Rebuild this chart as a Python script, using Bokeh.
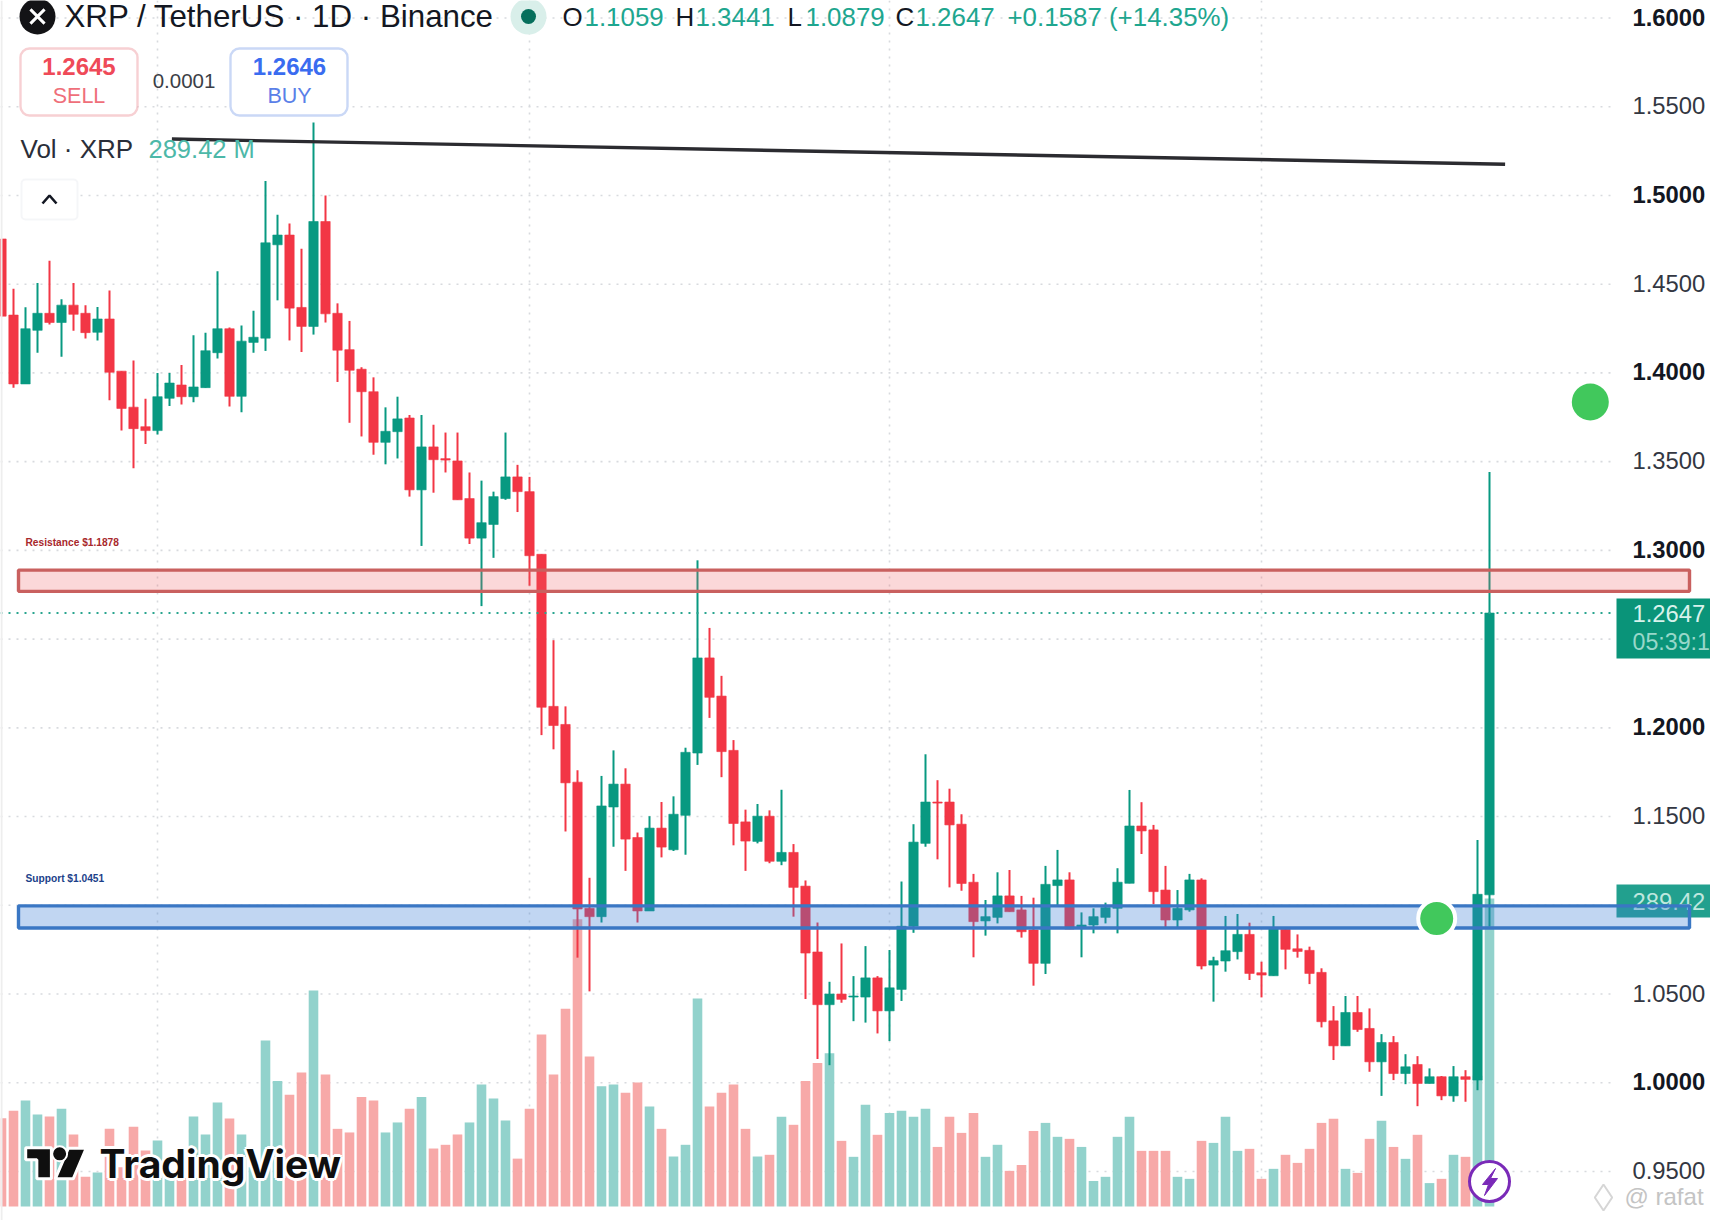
from bokeh.plotting import figure
from bokeh.models import Range1d, BoxAnnotation
from bokeh.core.properties import value
from bokeh.embed import file_html
from bokeh.resources import INLINE

# ---- data -------------------------------------------------------------
opens = [1.4755,1.4326,1.3938,1.4240,1.4336,1.4284,1.4382,1.4336,1.4229,1.4304,1.401,1.3807,1.3697,1.3675,1.3857,1.3932,1.3866,1.3917,1.4114,1.4249,1.3868,1.4172,1.4196,1.4722,1.4777,1.4369,1.4262,1.4853,1.4336,1.4131,1.4021,1.3894,1.3609,1.3669,1.3746,1.3341,1.3583,1.3517,1.3504,1.3292,1.3069,1.3146,1.3292,1.3414,1.3331,
 1.2978,1.2121,1.2019,1.1694,1.0983,1.0936,1.1554,1.1683,1.1382,1.0968,1.1435,1.1313,1.1507,1.1858,1.2394,1.2179,1.1873,1.147,1.136,1.1502,1.1248,1.1298,1.1108,1.0737,1.044,1.05,1.0483,1.0483,1.0591,1.0405,1.0526,1.0882,1.1349,1.1582,1.1582,1.1457,
 1.113,1.0912,1.0932,1.1053,1.0974,1.0861,1.0673,1.1111,1.1143,1.087,1.0889,1.0932,1.0983,1.1124,1.1447,1.1425,1.1086,1.0917,1.0974,1.1143,1.0663,1.0686,1.0739,1.0836,1.062,1.0603,1.0865,1.0755,1.0746,1.0622,1.0349,1.0208,1.0396,1.0306,1.0118,1.0227,1.0052,1.0103,0.9996,1.0034,0.9926,1.0034,1.0015,1.1059]
highs = [1.4755,1.4475,1.437,1.4507,1.4632,1.4415,1.4507,1.4382,1.4371,1.4464,1.401,1.407,1.3855,1.4,1.4,1.4044,1.4212,1.4227,1.4573,1.4256,1.4267,1.435,1.5081,1.4891,1.4842,1.47,1.5411,1.5,1.4392,1.4293,1.4032,1.3975,1.3806,1.3866,1.3763,1.3763,1.3708,1.3664,1.3664,1.3439,1.3393,1.3331,1.3664,1.3482,1.3414,
 1.2978,1.2494,1.2121,1.1761,1.1155,1.1729,1.1873,1.1772,1.141,1.1502,1.1582,1.1614,1.1888,1.2944,1.2563,1.2293,1.1931,1.1539,1.1571,1.1535,1.1651,1.1345,1.114,1.0903,1.0569,1.0785,1.0601,1.077,1.0601,1.0748,1.1134,1.1457,1.1851,1.1705,1.1657,1.1513,
 1.1177,1.103,1.1186,1.1199,1.1053,1.1043,1.1222,1.1312,1.1186,1.096,1.0983,1.1015,1.1209,1.165,1.1581,1.1453,1.1222,1.1086,1.1177,1.1152,1.071,1.094,1.0951,1.0902,1.0682,1.094,1.087,1.0836,1.0767,1.0645,1.0432,1.0489,1.0489,1.0419,1.0274,1.0263,1.0161,1.015,1.0081,1.0038,1.0094,1.0071,1.1368,1.3441]
lows = [1.432,1.3916,1.3938,1.4113,1.4273,1.4091,1.4238,1.4194,1.4183,1.3846,1.3675,1.3463,1.36,1.3653,1.3813,1.3822,1.3835,1.3917,1.4081,1.3811,1.3778,1.4113,1.4124,1.4409,1.4183,1.4118,1.4216,1.4284,1.3949,1.3719,1.3642,1.3539,1.3485,1.3518,1.3303,1.3025,1.3325,1.3439,1.3285,1.3036,1.2686,1.2958,1.3285,1.3216,1.2801,
 1.1959,1.1879,1.1416,1.0705,1.0515,1.0903,1.133,1.1194,1.0903,1.0968,1.127,1.1306,1.1285,1.1791,1.2056,1.1722,1.1338,1.1194,1.1349,1.1237,1.1226,1.0936,1.0472,1.0134,1.0099,1.0451,1.0347,1.0339,1.0278,1.0235,1.0461,1.0845,1.133,1.1259,1.1101,1.1082,
 1.0707,1.0829,1.0898,1.0964,1.0818,1.0547,1.0613,1.1002,1.0866,1.0707,1.0842,1.0898,1.0842,1.1124,1.1289,1.1007,1.0876,1.087,1.0964,1.0639,1.0457,1.0626,1.0695,1.0579,1.0481,1.0603,1.0639,1.0705,1.0556,1.0312,1.0128,1.0208,1.0287,1.0062,0.9926,1.0015,0.9992,0.9868,0.9996,0.9902,0.9893,0.9893,0.9958,1.0879]
closes = [1.432,1.3938,1.4249,1.4336,1.4284,1.4382,1.4330,1.4227,1.4304,1.4004,1.38,1.3686,1.3675,1.3866,1.3943,1.3866,1.3921,1.4125,1.4249,1.3868,1.4179,1.4201,1.4733,1.4777,1.4365,1.4262,1.4853,1.4333,1.4128,1.4015,1.3894,1.3609,1.3671,1.3741,1.3341,1.3583,1.3511,1.3509,1.3285,1.3069,1.3156,1.3303,1.3414,1.3331,1.297,
 1.2116,1.2013,1.169,1.0979,1.0936,1.156,1.1683,1.1373,1.0968,1.1435,1.1328,1.1513,1.1862,1.2394,1.2172,1.1866,1.1461,1.1362,1.1502,1.1248,1.1298,1.1101,1.0731,1.044,1.05,1.047,1.0489,1.0591,1.0405,1.0535,1.0882,1.1356,1.1582,1.1576,1.1453,1.1123,
 1.0908,1.0936,1.1053,1.0964,1.0851,1.0673,1.1118,1.1143,1.0866,1.0889,1.0936,1.0987,1.113,1.1447,1.1419,1.1077,1.0917,1.0983,1.1143,1.0658,1.0688,1.0744,1.0836,1.0616,1.0607,1.087,1.0752,1.074,1.0616,1.0344,1.0208,1.0396,1.03,1.0118,1.0227,1.0052,1.009,0.9996,1.0034,0.9926,1.0034,1.0019,1.1062,1.2647]
volumes = [83,90,99.6,86.5,84.6,92,67.7,28,32,73,37,75,52.6,62,34,28,84.6,67.7,97.7,82.7,67.7,37,156,118,105,126,203,124,73,69.6,103,99.6,69.6,79,92,103,54.5,58,67.7,79,114.7,101.5,80.8,45,92,161.7,124,186,270,141,113,114.7,107,116.5,94,73,47,58,195.5,94,107,114.7,73,47,
 48.6,84.3,76.8,118,135,144,61.7,46.7,95.6,67.4,88,90,84.3,91.8,56,84.3,69.2,88,46.7,58,33.5,39,71,78.6,65.5,63.6,56,24,27.9,65.5,84.3,52.3,52.3,52.3,27.9,26,61.7,59.8,84.3,52.3,54.2,26,35.4,48.6,41,54.2,78.6,82.4,35.4,31.6,63.6,80.5,56,44.8,67.4,22,26,48.6,46.7,123,289.42]
vol_up = [0,0,1,1,0,1,0,0,1,0,0,0,0,1,1,0,1,1,1,0,1,1,1,1,0,0,1,0,0,0,0,0,1,1,0,1,0,0,0,1,1,1,1,0,0,0,0,0,0,0,1,1,0,0,1,0,1,1,1,0,0,0,0,1,
 0,1,0,0,0,1,0,1,1,0,1,1,1,1,0,0,0,0,1,1,0,0,0,1,1,0,1,1,1,1,1,0,0,0,1,1,0,1,1,1,0,0,1,0,0,0,0,0,1,0,0,1,0,1,0,1,0,1,0,1,1]

price_ticks = [1.60,1.55,1.50,1.45,1.40,1.35,1.30,1.20,1.15,1.05,1.00,0.95]
price_labels = ["1.6000","1.5500","1.5000","1.4500","1.4000","1.3500","1.3000","1.2000","1.1500","1.0500","1.0000","0.9500"]
major_labels = ["1.6000","1.5000","1.4000","1.3000","1.2000","1.0000"]
all_grid_prices = [1.60,1.55,1.50,1.45,1.40,1.35,1.30,1.25,1.20,1.15,1.10,1.05,1.00,0.95]
vgrid_bars = [13,44,74,105]
resistance = (1.2769,1.2889)
support = (1.0872,1.0997)
last_price = 1.2647
trend_bars = [14.2,125.3]
trend_prices = [1.5318,1.5176]
dot_bars = [132.4,119.6]
dot_prices = [1.3836,1.0925]

# ---- pixel helpers (reference px -> chart coordinates) -----------------
W, H = 1710, 1220
PX_PER_UNIT = 1774.6
def X(px): return (px-1)/12
def Y(py): return 1.6-(py-17.5)/PX_PER_UNIT

RED, GREEN = "#f23645", "#089981"
n = list(range(len(opens)))

p = figure(width=W, height=H, output_backend="svg", toolbar_location=None,
           x_range=Range1d(X(0),X(W)), y_range=Range1d(Y(H),Y(0)),
           min_border=0, min_border_left=0, min_border_right=0, min_border_top=0, min_border_bottom=0,
           background_fill_color="white", outline_line_color=None)
p.xaxis.visible = False
p.yaxis.visible = False
p.grid.visible = False
p.extra_y_ranges = {"vol": Range1d(-(H-1206)*0.94, 1206*0.94)}

# grid
p.segment(x0=[X(0)]*len(all_grid_prices), x1=[X(1613)]*len(all_grid_prices), y0=all_grid_prices, y1=all_grid_prices,
          line_color="#d8dade", line_width=1.6, line_dash="2 6")
p.segment(x0=vgrid_bars, x1=vgrid_bars, y0=[Y(0)]*4, y1=[Y(1206)]*4,
          line_color="#d8dade", line_width=1.6, line_dash="2 6")

# volume
vol_col = ["#92d2cc" if u else "#f7a9a8" for u in vol_up]
p.vbar(x=n, top=volumes, bottom=0, width=0.8, fill_color=vol_col, line_color=None, y_range_name="vol")

# watermark logo
halo = [(-2,-2),(2,-2),(-2,2),(2,2),(0,-3),(0,3),(-3,0),(3,0)]
for dx,dy in halo:
    p.text(x=[X(99)], y=[Y(1163)], text=["TradingView"], text_font=value("Inter"), text_font_style="bold",
           text_font_size="39px", text_color="white", text_baseline="middle", x_offset=dx, y_offset=dy)
p.text(x=[X(99)], y=[Y(1163)], text=["TradingView"], text_font=value("Inter"), text_font_style="bold",
       text_font_size="39px", text_color="#0f0f0f", text_baseline="middle")
zx = lambda v: X(v/2.063)
zy = lambda v: Y(950+v/3)
p.patches(xs=[[zx(52),zx(105),zx(105),zx(75),zx(75),zx(52)], [zx(140),zx(177),zx(150),zx(113)]],
          ys=[[zy(592),zy(592),zy(685),zy(685),zy(628),zy(628)], [zy(593),zy(593),zy(685),zy(685)]],
          fill_color="#0f0f0f", line_color="white", line_width=3)
p.scatter(x=[zx(122)], y=[zy(610)], size=15, fill_color="#0f0f0f", line_color="white", line_width=2)

# candles
col = [GREEN if c>=o else RED for o,c in zip(opens,closes)]
p.segment(x0=n, x1=n, y0=lows, y1=highs, line_color=col, line_width=2)
p.vbar(x=n, top=[max(a,b) for a,b in zip(opens,closes)], bottom=[min(a,b) for a,b in zip(opens,closes)],
       width=0.78, fill_color=col, line_color=col, line_width=0.6)

# last price line
p.segment(x0=[X(0)], x1=[X(1613)], y0=[last_price], y1=[last_price], line_color="#2aa58f", line_width=2, line_dash="2 6")

# trend line
p.line(x=trend_bars, y=trend_prices, line_color="#2b2b30", line_width=3.4)

# price labels
for lab,t in zip(price_labels,price_ticks):
    p.text(x=[X(1632)], y=[t], text=[lab], text_font=value("Liberation Sans"),
           text_font_style="bold" if lab in major_labels else "normal",
           text_font_size="23.8px", text_color="#131722" if lab in major_labels else "#333742", text_baseline="middle",
           y_offset=-1)

# axis labels boxes
p.quad(left=[X(1616)], right=[X(W)], top=[Y(598)], bottom=[Y(658)], fill_color="#0a9479", line_color=None)
p.text(x=[X(1632)], y=[last_price], text=["1.2647"], text_font=value("Liberation Sans"), text_font_size="23.8px",
       text_color="#d8f2ec", text_baseline="middle")
p.text(x=[X(1632)], y=[Y(641)], text=["05:39:1"], text_font=value("Liberation Sans"), text_font_size="23.2px",
       text_color="#98d8ca", text_baseline="middle")
p.quad(left=[X(1616)], right=[X(W)], top=[Y(884)], bottom=[Y(917)], fill_color="#22a08e", line_color=None)
p.text(x=[X(1632)], y=[Y(901)], text=["289.42"], text_font=value("Liberation Sans"), text_font_size="23.8px",
       text_color="#bfe7df", text_baseline="middle")

# zones
p.quad(left=[X(18)], right=[X(1689)], bottom=[resistance[0]], top=[resistance[1]],
       fill_color="#f05a5f", fill_alpha=0.24, line_color="#c9605f", line_width=3.4)
p.quad(left=[X(18)], right=[X(1689)], bottom=[support[0]], top=[support[1]],
       fill_color="#3f80d8", fill_alpha=0.32, line_color="#3a77c4", line_width=3.4)
p.text(x=[X(25)], y=[Y(542)], text=["Resistance $1.1878"], text_font=value("Liberation Sans"), text_font_style="bold",
       text_font_size="10.2px", text_color="#a8282c", text_baseline="middle")
p.text(x=[X(25)], y=[Y(878)], text=["Support $1.0451"], text_font=value("Liberation Sans"), text_font_style="bold",
       text_font_size="10.2px", text_color="#1c3f8a", text_baseline="middle")

# green dots
p.scatter(x=dot_bars, y=dot_prices, size=[37,37], fill_color="#41c85c", line_color=["#41c85c","white"], line_width=[0,4])

# header
p.scatter(x=[X(37)], y=[Y(16)], size=36, fill_color="#131316", line_color=None)
p.scatter(x=[X(37)], y=[Y(16)], size=20, marker="x", fill_color=None, line_color="white", line_width=3)
p.text(x=[X(64)], y=[Y(16)], text=["XRP / TetherUS · 1D · Binance"], text_font=value("Liberation Sans"),
       text_font_size="31.3px", text_color="#131722", text_baseline="middle")
p.scatter(x=[X(528)], y=[Y(16)], size=36, fill_color="#d9efea", line_color=None)
p.scatter(x=[X(528)], y=[Y(16)], size=15, fill_color="#066f5c", line_color=None)
ohlc = [(562,"O","#131722"),(584,"1.1059","#1ea68f"),(675,"H","#131722"),(695,"1.3441","#1ea68f"),
        (787,"L","#131722"),(805,"1.0879","#1ea68f"),(895,"C","#131722"),(915,"1.2647","#1ea68f"),
        (1007,"+0.1587 (+14.35%)","#1ea68f")]
for px,t,c in ohlc:
    p.text(x=[X(px)], y=[Y(16)], text=[t], text_font=value("Liberation Sans"), text_font_size="25.9px",
           text_color=c, text_baseline="middle")

# buy / sell (boxes hide the grid, their texts lie above them)
for l,r,c in [(20,137,"#e5636e"),(230,347,"#4f7de0")]:
    p.add_layout(BoxAnnotation(left=X(l), right=X(r), top=Y(48), bottom=Y(115), fill_color="white", fill_alpha=1,
                               line_color=c, line_width=2.4, border_radius=9))
for px,py,t,c,s,st in [(78.5,66,"1.2645","#ef4a58","24px","bold"),(78.5,95,"SELL","#ef6f7a","21.5px","normal"),
                       (289,66,"1.2646","#3a6cf0","24px","bold"),(289,95,"BUY","#5a80e8","21.5px","normal"),
                       (183.5,80,"0.0001","#3c3f47","20.5px","normal")]:
    p.text(x=[X(px)], y=[Y(py)], text=[t], text_font=value("Liberation Sans"), text_font_style=st, text_font_size=s,
           text_color=c, text_align="center", text_baseline="middle", level="overlay")
p.text(x=[X(20)], y=[Y(148)], text=["Vol · XRP"], text_font=value("Liberation Sans"), text_font_size="26px",
       text_color="#2a2e39", text_baseline="middle")
p.text(x=[X(148)], y=[Y(148)], text=["289.42 M"], text_font=value("Liberation Sans"), text_font_size="25.5px",
       text_color="#4db8a8", text_baseline="middle")
p.add_layout(BoxAnnotation(left=X(21), right=X(77), top=Y(179), bottom=Y(219), fill_color="white", fill_alpha=1,
                           line_color="#dfe2e8", line_width=2, border_radius=4))
p.line(x=[X(42),X(49),X(56)], y=[Y(203),Y(195),Y(203)], line_color="#131722", line_width=2.6, level="overlay")

# lightning badge
p.scatter(x=[X(1489)], y=[Y(1181)], size=40, fill_color="white", line_color="#7a2ab8", line_width=3)
p.patch(x=[X(1495),X(1482),X(1488),X(1484),X(1497),X(1490)], y=[Y(1168),Y(1184),Y(1184),Y(1195),Y(1178),Y(1178)],
        fill_color="#7a2ab8", line_color="#7a2ab8", line_width=1)

# credit
p.scatter(x=[X(1603)], y=[Y(1197)], size=26, marker="diamond", fill_color=None, line_color="#d6d6d6", line_width=2)
p.text(x=[X(1624)], y=[Y(1196)], text=["@ rafat"], text_font=value("Liberation Sans"), text_font_size="24px",
       text_color="#c4c4c4", text_baseline="middle")

# left strip
p.quad(left=[X(0)], right=[X(2)], top=[Y(0)], bottom=[Y(H)], fill_color="#eeeeee", line_color=None)

open("out.html","w").write(file_html(p, INLINE))
